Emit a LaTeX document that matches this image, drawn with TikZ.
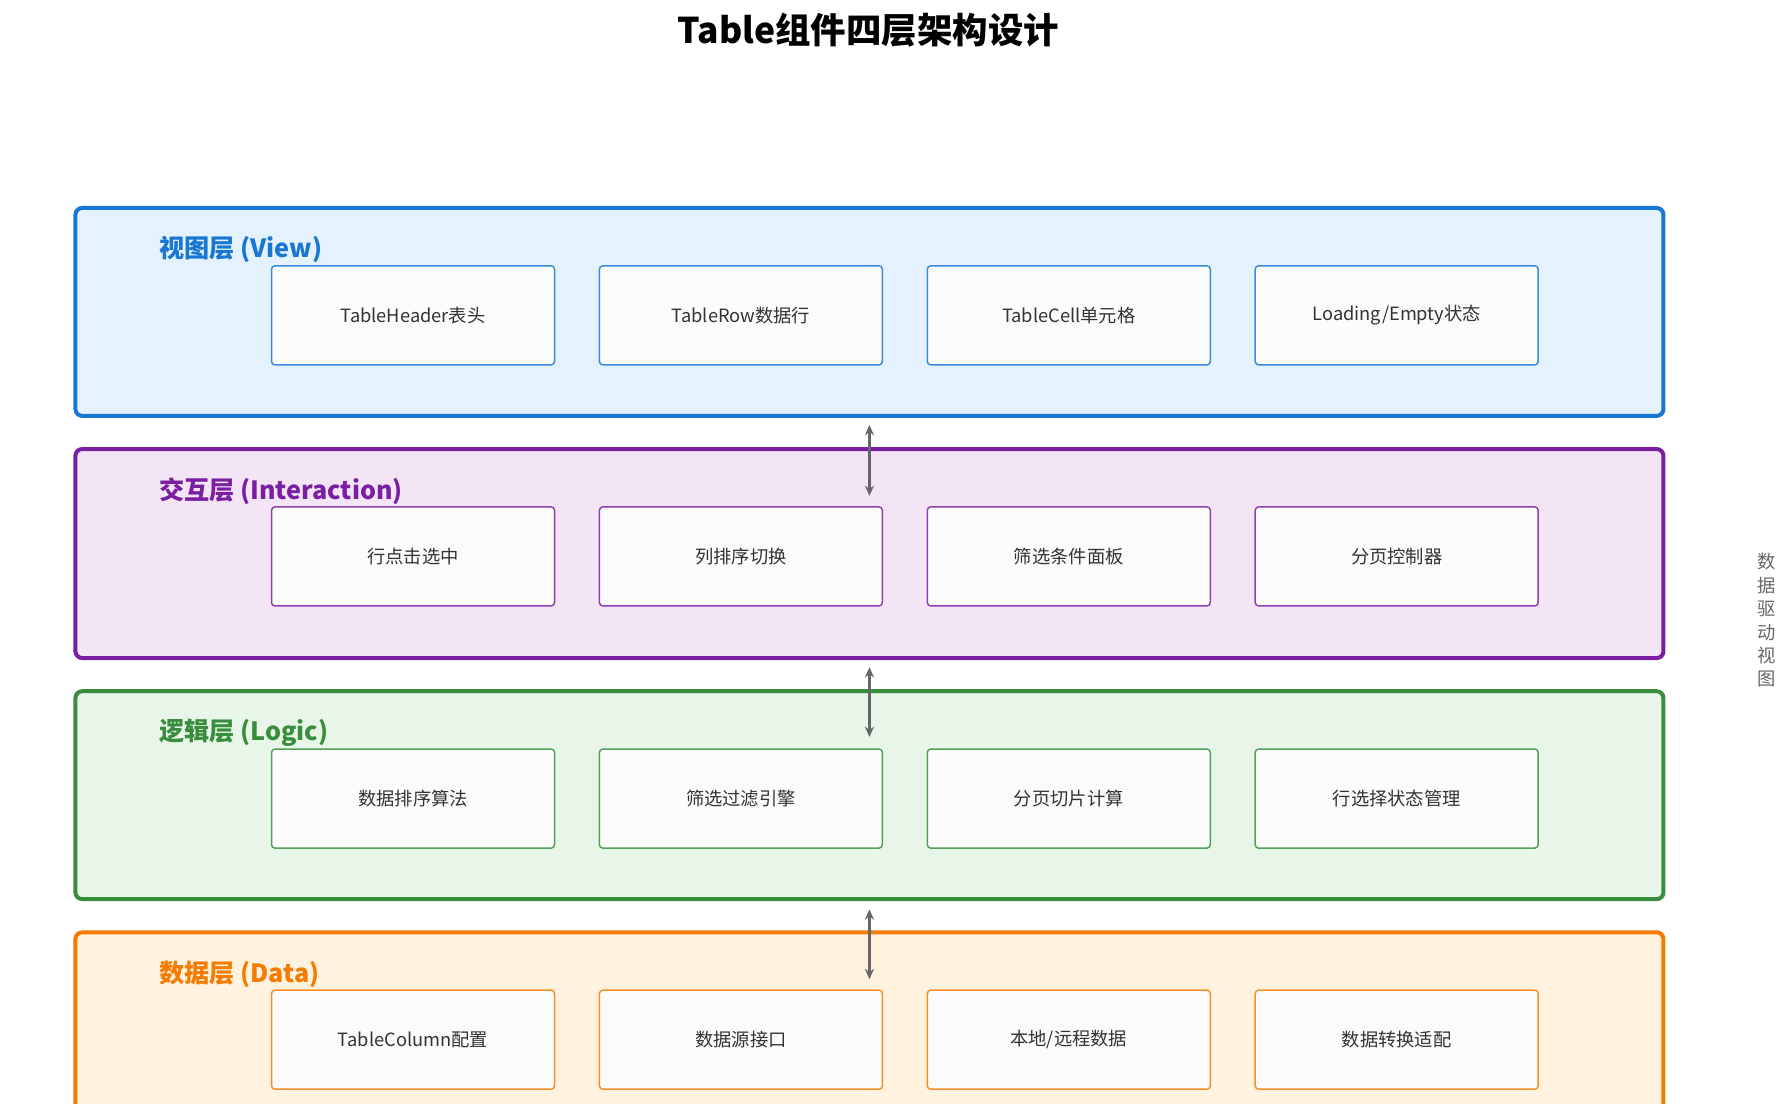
\documentclass[tikz,border=0pt]{standalone}
\usepackage{fontspec}
\setmainfont{Noto Sans CJK SC}
\usepackage{xcolor}
\usetikzlibrary{positioning,arrows.meta}
\definecolor{vline}{HTML}{1976D2}\definecolor{vfill}{HTML}{E3F2FD}
\definecolor{iline}{HTML}{7B1FA2}\definecolor{ifill}{HTML}{F3E5F5}
\definecolor{lline}{HTML}{388E3C}\definecolor{lfill}{HTML}{E8F5E9}
\definecolor{dline}{HTML}{F57C00}\definecolor{dfill}{HTML}{FFF3E0}
\begin{document}
\begin{tikzpicture}[x=1pt,y=1pt,
		layer/.style={draw=#1line,fill=#1fill,line width=3.5pt,rounded corners=6pt},
		item/.style={draw=#1line!85,fill=white!98.5!black,line width=1.3pt,rounded corners=3pt,
			minimum width=247.7pt,minimum height=86.7pt,inner sep=0pt,font=\fontsize{16}{19}\selectfont,text=black!80},
		title/.style={text=#1line,font=\fontsize{22}{26}\selectfont\bfseries,anchor=west},
		link/.style={{Stealth[length=9pt,width=8pt]}-{Stealth[length=9pt,width=8pt]},draw=black!60,line width=3pt}]
		\useasboundingbox (0,0) rectangle (1565,-966);
		\clip (0,0) rectangle (1565,-966);
		\node (tt) at (760,-26) {\fontsize{31}{36}\selectfont\bfseries Table组件四层架构设计};

		% view
		\draw [layer=v] (66,-182) rectangle (1456,-364);
		\node [title=v] (vt) at (136,-218) {视图层 (View)};
		\node [item=v] (v1) at (361.5,-276) {TableHeader表头};
		\node [item=v] (v2) [right=38pt of v1] {TableRow数据行};
		\node [item=v] (v3) [right=38pt of v2] {TableCell单元格};
		\node [item=v] (v4) [right=38pt of v3] {Loading/Empty状态};

		% interaction
		\draw [layer=i] (66,-393) rectangle (1456,-576);
		\node [title=i] (it) at (136,-430) {交互层 (Interaction)};
		\node [item=i] (i1) at (361.5,-487) {行点击选中};
		\node [item=i] (i2) [right=38pt of i1] {列排序切换};
		\node [item=i] (i3) [right=38pt of i2] {筛选条件面板};
		\node [item=i] (i4) [right=38pt of i3] {分页控制器};

		% logic
		\draw [layer=l] (66,-605) rectangle (1456,-787);
		\node [title=l] (lt) at (136,-641) {逻辑层 (Logic)};
		\node [item=l] (l1) at (361.5,-699) {数据排序算法};
		\node [item=l] (l2) [right=38pt of l1] {筛选过滤引擎};
		\node [item=l] (l3) [right=38pt of l2] {分页切片计算};
		\node [item=l] (l4) [right=38pt of l3] {行选择状态管理};

		% data
		\draw [layer=d] (66,-816) rectangle (1456,-998);
		\node [title=d] (dt) at (136,-853) {数据层 (Data)};
		\node [item=d] (d1) at (361.5,-910) {TableColumn配置};
		\node [item=d] (d2) [right=38pt of d1] {数据源接口};
		\node [item=d] (d3) [right=38pt of d2] {本地/远程数据};
		\node [item=d] (d4) [right=38pt of d3] {数据转换适配};

		\coordinate (a1) at (761,-372); \coordinate (b1) at (761,-434);
		\coordinate (a2) at (761,-584); \coordinate (b2) at (761,-645);
		\coordinate (a3) at (761,-796); \coordinate (b3) at (761,-857);
		\draw [link] (a1) -- (b1);
		\draw [link] (a2) -- (b2);
		\draw [link] (a3) -- (b3);

		\node [text=black!60,align=center,font=\fontsize{16}{20.5}\selectfont] (side) at (1546,-543) {数\\据\\驱\\动\\视\\图};
	\end{tikzpicture}
\end{document}
